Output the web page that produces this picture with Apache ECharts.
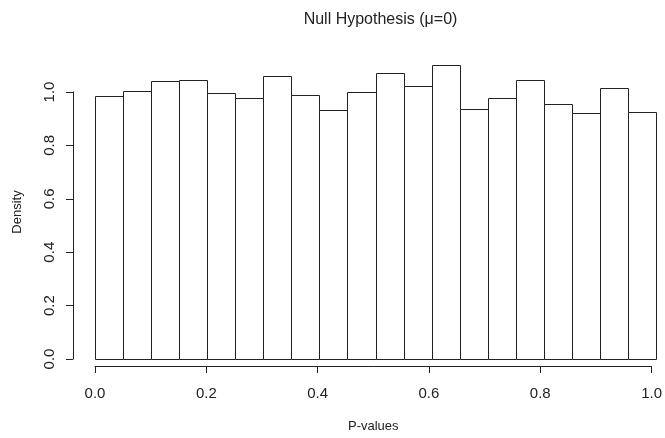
<!DOCTYPE html>
<html>
<head>
<meta charset="utf-8">
<script src="https://cdn.jsdelivr.net/npm/echarts@6/dist/echarts.min.js"></script>
<style>
  html, body { margin: 0; padding: 0; background: #fff; }
  #chart { width: 665px; height: 438px; }
</style>
</head>
<body>
<div id="chart"></div>
<script>
// histogram bins (P-values) and their densities
var binEdges = [0, 0.05, 0.1, 0.15, 0.2, 0.25, 0.3, 0.35, 0.4, 0.45, 0.5,
                0.55, 0.6, 0.65, 0.7, 0.75, 0.8, 0.85, 0.9, 0.95, 1.0];
var density = [0.985, 1.005, 1.042, 1.046, 0.995, 0.979, 1.060, 0.989, 0.933, 1.001,
               1.070, 1.022, 1.102, 0.936, 0.976, 1.046, 0.954, 0.921, 1.016, 0.926];
var xTicks = [0, 0.2, 0.4, 0.6, 0.8, 1.0];
var yTicks = [0, 0.2, 0.4, 0.6, 0.8, 1.0];

var font = 'Liberation Sans, Arial, sans-serif';
var narrow = 'Liberation Sans Narrow, Arial Narrow, Liberation Sans, sans-serif';
var ink = '#222';

var bins = [];
for (var i = 0; i < density.length; i++) {
    bins.push([binEdges[i], binEdges[i + 1], density[i]]);
}

var fmt = function (v) { return v.toFixed(1); };
var hidden = { show: false };

var chart = echarts.init(document.getElementById('chart'));

// grid 0: the bars, grid 1: x axis (detached below), grid 2: y axis (detached left)
chart.setOption({
    animation: false,
    backgroundColor: '#fff',
    title: {
        text: 'Null Hypothesis (\u03bc=0)',
        left: 375.5,
        top: 7,
        textAlign: 'center',
        textStyle: { fontFamily: font, fontSize: 16, fontWeight: 'normal', color: ink }
    },
    grid: [
        { left: 95, right: 9, top: 92, bottom: 79 },
        { left: 95, right: 9, top: 92, bottom: 67 },
        { left: 73, right: 9, top: 92, bottom: 79 }
    ],
    xAxis: [
        { gridIndex: 0, type: 'value', min: 0, max: 1, show: false },
        {
            gridIndex: 1,
            type: 'value',
            min: xTicks[0],
            max: xTicks[xTicks.length - 1],
            interval: 0.2,
            name: 'P-values',
            nameLocation: 'middle',
            nameGap: 54,
            nameTextStyle: { fontFamily: font, fontSize: 13, color: ink },
            axisLine: { show: true, lineStyle: { color: ink, width: 1 } },
            axisTick: { show: true, length: 7, lineStyle: { color: ink } },
            axisLabel: { margin: 20, fontFamily: narrow, fontSize: 15, color: ink, formatter: fmt },
            splitLine: hidden
        },
        { gridIndex: 2, type: 'value', min: 0, max: 1, show: false }
    ],
    yAxis: [
        { gridIndex: 0, type: 'value', min: 0, max: 1, show: false },
        { gridIndex: 1, type: 'value', min: 0, max: 1, show: false },
        {
            gridIndex: 2,
            type: 'value',
            min: yTicks[0],
            max: yTicks[yTicks.length - 1],
            interval: 0.2,
            axisLine: { show: true, lineStyle: { color: ink, width: 1 } },
            axisTick: { show: true, length: 7, lineStyle: { color: ink } },
            axisLabel: { margin: 16, rotate: 90, fontFamily: narrow, fontSize: 15, color: ink, formatter: fmt },
            splitLine: hidden
        }
    ],
    graphic: [{
        type: 'text',
        x: 17,
        y: 212,
        rotation: Math.PI / 2,
        style: {
            text: 'Density',
            fontFamily: font,
            fontSize: 13,
            fill: ink,
            align: 'center',
            verticalAlign: 'middle'
        }
    }],
    series: [{
        type: 'custom',
        xAxisIndex: 0,
        yAxisIndex: 0,
        clip: false,
        data: bins,
        renderItem: function (params, api) {
            var p0 = api.coord([api.value(0), 0]);
            var p1 = api.coord([api.value(1), api.value(2)]);
            var x0 = Math.round(p0[0]) + 0.5;
            var x1 = Math.round(p1[0]) + 0.5;
            var yb = Math.round(p0[1]) + 0.5;
            var yt = Math.round(p1[1]) + 0.5;
            return {
                type: 'rect',
                shape: { x: x0, y: yt, width: x1 - x0, height: yb - yt },
                style: { fill: '#fff', stroke: ink, lineWidth: 1 }
            };
        }
    }]
});
</script>
</body>
</html>
